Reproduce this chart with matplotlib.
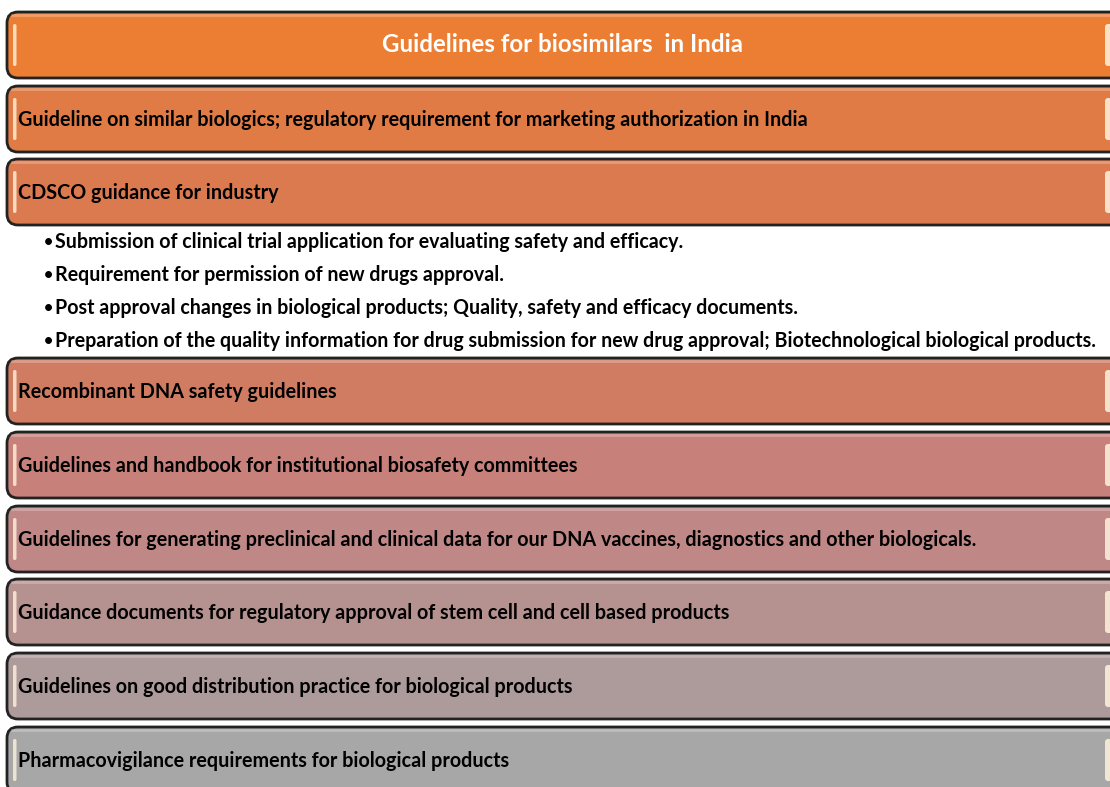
import matplotlib
matplotlib.use('Agg')
import matplotlib.pyplot as plt
from matplotlib.patches import FancyBboxPatch

plt.rcParams['font.family'] = ['Lato', 'DejaVu Sans']

title = 'Guidelines for biosimilars  in India'
boxes = [
    'Guideline on similar biologics; regulatory requirement for marketing authorization in India',
    'CDSCO guidance for industry',
    'Recombinant DNA safety guidelines',
    'Guidelines and handbook for institutional biosafety committees',
    'Guidelines for generating preclinical and clinical data for our DNA vaccines, diagnostics and other biologicals.',
    'Guidance documents for regulatory approval of stem cell and cell based products',
    'Guidelines on good distribution practice for biological products',
    'Pharmacovigilance requirements for biological products',
]
bullets = [
    'Submission of clinical trial application for evaluating safety and efficacy.',
    'Requirement for permission of new drugs approval.',
    'Post approval changes in biological products; Quality, safety and efficacy documents.',
    'Preparation of the quality information for drug submission for new drug approval; Biotechnological biological products.',
]
title_color = '#EC7E33'
box_colors = ['#E07B45', '#DB7A4E', '#CF7C62', '#C8817A', '#BF8886', '#B59290', '#AD9A9A', '#A7A7A7']

W, H = 1110, 787
fig = plt.figure(figsize=(W / 100, H / 100), dpi=100)
ax = fig.add_axes([0, 0, 1, 1])
ax.set_xlim(0, W)
ax.set_ylim(H, 0)
ax.axis('off')


def draw_box(y0, y1, color):
    p = FancyBboxPatch((7, y0), 1140, y1 - y0, boxstyle='round,pad=0,rounding_size=11',
                       fc=color, ec='#222222', lw=2.0, zorder=2)
    ax.add_patch(p)
    # glossy edge highlights
    ax.add_patch(FancyBboxPatch((13, y0 + 12), 3.5, (y1 - y0) - 24,
                                boxstyle='round,pad=0,rounding_size=1.7',
                                fc='#FFF3DC', ec='none', alpha=0.8, zorder=3))
    ax.add_patch(FancyBboxPatch((1105, y0 + 12), 8, (y1 - y0) - 24,
                                boxstyle='round,pad=0,rounding_size=3',
                                fc='#FFF3DC', ec='none', alpha=0.85, zorder=3))
    ax.plot([12, 1110], [y0 + 3, y0 + 3], color='white', alpha=0.25, lw=2, zorder=3)


def fit(text, target, scale=1.0):
    fig.canvas.draw()
    r = fig.canvas.get_renderer()
    t = ax.text(0, 0, text, fontsize=10, fontweight='bold')
    w = t.get_window_extent(r).width
    t.remove()
    return 10 * target / w * scale


fs = fit(boxes[0], 788)
fs_title = fit(title, 363)
fs_bul = fit(bullets[3], 1042)

# title box
draw_box(12, 78, title_color)
ax.text(562, 45, title, color='white', fontsize=fs_title, fontweight='bold',
        ha='center', va='center', zorder=4)

tops = [86, 159, 358, 432, 506, 579, 653, 727]
h = 66
for label, col, t in zip(boxes, box_colors, tops):
    draw_box(t, t + h, col)
    ax.text(18, t + h / 2 + 1, label, color='black', fontsize=fs, fontweight='bold',
            ha='left', va='center', zorder=4)

for i, b in enumerate(bullets):
    y = 242 + i * 33
    ax.text(44, y, '\u2022', color='black', fontsize=fs_bul * 0.8, fontweight='bold',
            ha='left', va='center', zorder=4)
    ax.text(55, y, b, color='black', fontsize=fs_bul, fontweight='bold',
            ha='left', va='center', zorder=4)

fig.savefig('out.png', dpi=100, facecolor='white')
